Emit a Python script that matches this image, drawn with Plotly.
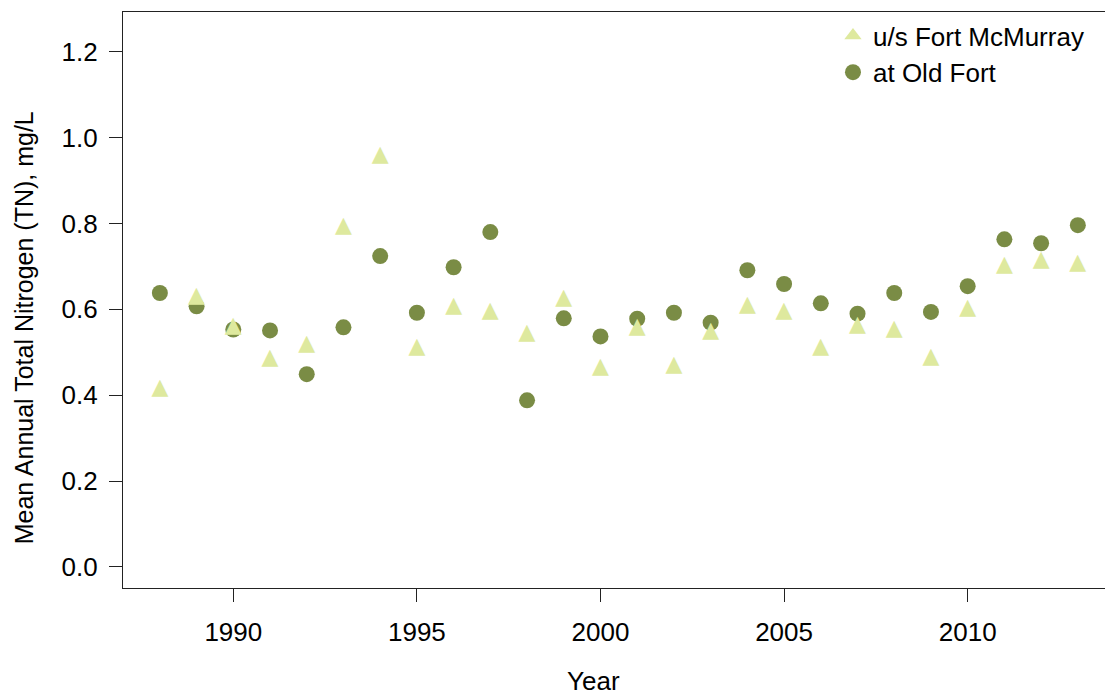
import plotly.graph_objects as go

# Mean annual total nitrogen (mg/L), Athabasca River sites
years = list(range(1988, 2014))
us_fort_mcmurray = [0.415, 0.631, 0.559, 0.485, 0.519, 0.794, 0.958, 0.512, 0.607, 0.596,
                    0.544, 0.625, 0.465, 0.557, 0.470, 0.549, 0.609, 0.596, 0.512, 0.562,
                    0.553, 0.488, 0.601, 0.702, 0.714, 0.706]
at_old_fort = [0.638, 0.607, 0.553, 0.551, 0.449, 0.558, 0.724, 0.592, 0.698, 0.780,
               0.388, 0.579, 0.537, 0.578, 0.592, 0.569, 0.691, 0.659, 0.614, 0.590,
               0.638, 0.594, 0.654, 0.763, 0.754, 0.796]
y_ticks = [0.0, 0.2, 0.4, 0.6, 0.8, 1.0, 1.2]
x_ticks = [1990, 1995, 2000, 2005, 2010]

FONT = "Liberation Sans, Arial, sans-serif"
AXIS_COLOR = "#222222"
DARK_GREEN = "#7A8C45"
PALE_GREEN = "#DEE99E"

fig = go.Figure()
fig.add_trace(go.Scatter(
    x=years, y=at_old_fort, mode="markers", name="at Old Fort", legendrank=2,
    marker=dict(symbol="circle", size=16, color=DARK_GREEN, line=dict(width=0)),
))
# equilateral triangles drawn as glyphs, on top of the circles
fig.add_trace(go.Scatter(
    x=years, y=us_fort_mcmurray, mode="text", text=["\u25B2"] * len(years),
    textposition="middle center", showlegend=False, hoverinfo="x+y",
    textfont=dict(family="DejaVu Sans", size=22, color=PALE_GREEN),
))
# legend entry for the triangle series
fig.add_trace(go.Scatter(
    x=[None], y=[None], mode="markers", name="u/s Fort McMurray", legendrank=1,
    marker=dict(symbol="triangle-up", size=15, color=PALE_GREEN, line=dict(width=0)),
))

fig.update_layout(
    width=1105, height=696,
    margin=dict(l=123, r=0, t=12, b=108),
    paper_bgcolor="white", plot_bgcolor="white",
    font=dict(family=FONT, size=26, color="black"),
    showlegend=True,
    legend=dict(x=0.723, y=1.0, xanchor="left", yanchor="top",
                bgcolor="rgba(0,0,0,0)", font=dict(size=26), itemwidth=30),
    xaxis=dict(
        range=[1986.996, 2013.74], tickvals=x_ticks, ticks="outside", ticklen=13,
        tickwidth=1.2, tickcolor=AXIS_COLOR, showline=True, linecolor=AXIS_COLOR,
        linewidth=1.3, mirror=True, showgrid=False, zeroline=False,
        ticklabelstandoff=8,
    ),
    yaxis=dict(
        range=[-0.049, 1.2925], tickvals=y_ticks, tickformat=".1f", ticks="outside",
        ticklen=13, tickwidth=1.2, tickcolor=AXIS_COLOR, showline=True,
        linecolor=AXIS_COLOR, linewidth=1.3, showgrid=False, zeroline=False,
        ticklabelstandoff=6,
    ),
    annotations=[
        dict(text="Year", xref="paper", yref="paper", x=0.4796, y=-0.162,
             xanchor="center", yanchor="middle", showarrow=False, font=dict(size=26)),
        dict(text="Mean Annual Total Nitrogen (TN), mg/L", xref="paper", yref="paper",
             x=-0.1005, y=0.4514, xanchor="center", yanchor="middle", textangle=-90,
             showarrow=False, font=dict(size=25)),
    ],
)

fig.write_html("out.html")
